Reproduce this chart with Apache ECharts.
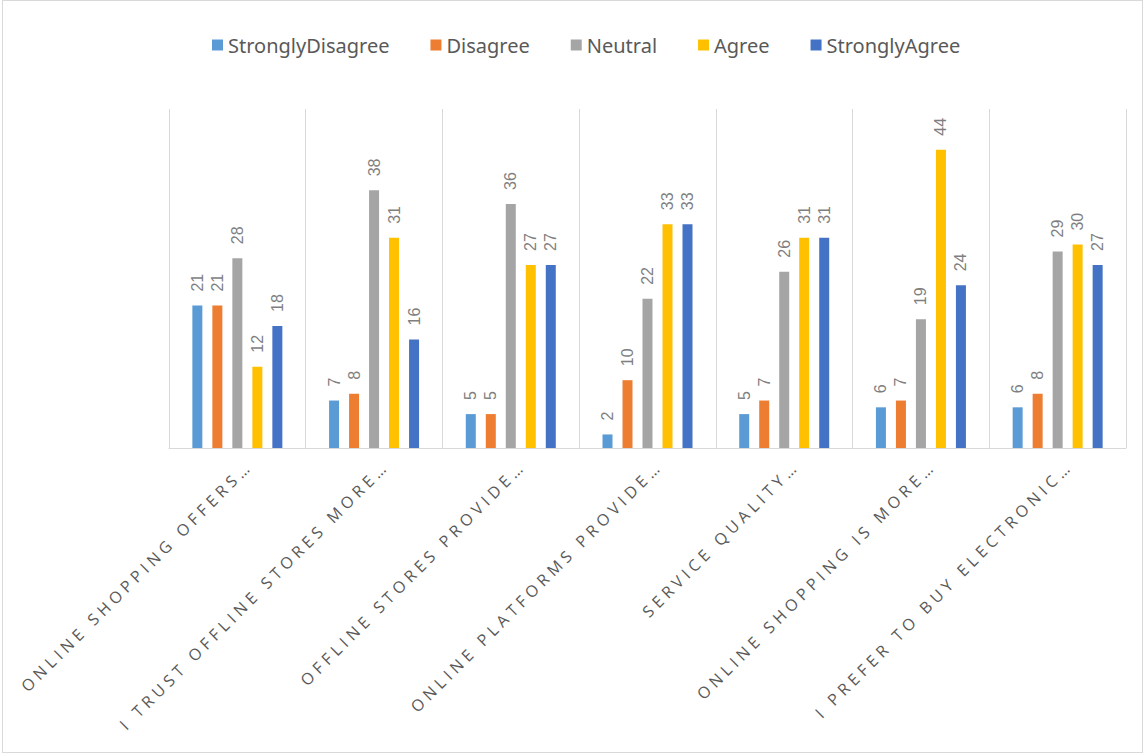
<!DOCTYPE html>
<html>
<head>
<meta charset="utf-8">
<script src="https://cdn.jsdelivr.net/npm/echarts@6/dist/echarts.min.js"></script>
<style>
  html, body { margin: 0; padding: 0; background: #fff; }
  #chart { position: absolute; left: 2px; top: 0; width: 1141px; height: 753px; border: 1px solid #d9d9d9; box-sizing: border-box; }
</style>
</head>
<body>
<div id="chart"></div>
<script>
// statements (as shown, truncated)
const categories = [
  'ONLINE SHOPPING OFFERS…',
  'I TRUST OFFLINE STORES MORE…',
  'OFFLINE STORES PROVIDE…',
  'ONLINE PLATFORMS PROVIDE…',
  'SERVICE QUALITY…',
  'ONLINE SHOPPING IS MORE…',
  'I PREFER TO BUY ELECTRONIC…'
]
const stronglyDisagree = [21, 7, 5, 2, 5, 6, 6]
const disagree = [21, 8, 5, 10, 7, 7, 8]
const neutral = [28, 38, 36, 22, 26, 19, 29]
const agree = [12, 31, 27, 33, 31, 44, 30]
const stronglyAgree = [18, 16, 27, 33, 31, 24, 27]

const seriesNames = ['StronglyDisagree', 'Disagree', 'Neutral', 'Agree', 'StronglyAgree']
const seriesData = [stronglyDisagree, disagree, neutral, agree, stronglyAgree]
const colors = ['#5B9BD5', '#ED7D31', '#A5A5A5', '#FFC000', '#4472C4']

const chart = echarts.init(document.getElementById('chart'), null, { renderer: 'svg' })

chart.setOption({
  animation: false,
  textStyle: { fontFamily: 'Open Sans, Noto Sans, sans-serif' },
  color: colors,
  legend: {
    top: 29,
    left: 204,
    itemWidth: 11,
    itemHeight: 11,
    itemGap: 41,
    icon: 'rect',
    textStyle: { fontSize: 20, color: '#595959', fontFamily: 'Noto Sans, sans-serif' },
    data: seriesNames
  },
  grid: {
    left: 166,
    right: 16,
    top: 108,
    bottom: 304,
    containLabel: false
  },
  xAxis: {
    type: 'category',
    data: categories,
    axisLine: { lineStyle: { color: '#d9d9d9', width: 1 } },
    axisTick: { show: false },
    splitLine: { show: true, lineStyle: { color: '#d9d9d9', width: 1 } },
    axisLabel: {
      rotate: 45,
      interval: 0,
      margin: 3,
      verticalAlign: 'top',
      padding: [9, 0, 0, 0],
      fontSize: 16,
      color: '#595959',
      fontFamily: 'Open Sans, sans-serif'
    }
  },
  yAxis: {
    type: 'value',
    min: 0,
    max: 50,
    show: false,
    splitLine: { show: false }
  },
  series: seriesData.map((d, i) => ({
    name: seriesNames[i],
    type: 'bar',
    barWidth: 10,
    barGap: '100%',
    data: d,
    label: {
      show: true,
      position: 'top',
      rotate: 90,
      align: 'left',
      verticalAlign: 'middle',
      distance: 14,
      fontSize: 16,
      color: '#7f7f7f',
      fontFamily: 'Liberation Sans, sans-serif'
    }
  }))
})

// spaced-out category labels like the original
function spaceLabels() {
  chart.getDom().querySelectorAll('text').forEach(t => {
    if (categories.includes(t.textContent)) t.style.letterSpacing = '4.5px'
  })
}
chart.on('finished', spaceLabels)
spaceLabels()
</script>
</body>
</html>
